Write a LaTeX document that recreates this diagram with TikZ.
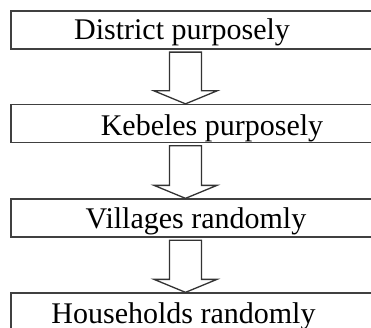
\documentclass[tikz,border=0pt]{standalone}
\usepackage{fontspec}
\setmainfont{Liberation Serif}
\usepackage{tikz}

\begin{document}
\begin{tikzpicture}[x=1pt,y=1pt,
        font=\fontsize{30}{36}\selectfont,
        stagebox/.style={draw=black!75,line width=1.3pt,minimum width=369pt,minimum height=38pt,inner sep=0pt},
        stagetext/.style={anchor=base,inner sep=0pt},
        downarr/.style={draw=black!80,line width=1.3pt,line join=miter,fill=white}]

    \useasboundingbox (0,0) rectangle (371,327);
    \clip (0,0) rectangle (371,327);

    % boxes
    \node[stagebox] (district) at (195.5,297) {};
    \node[stagebox] (kebele) at (195.5,203.5) {};
    \node[stagebox] (village) at (195.5,109) {};
    \node[stagebox] (household) at (195.5,15) {};

    % texts
    \node[stagetext] (districttxt) at (182,287.7) {District purposely};
    \node[stagetext] (kebeletxt) at (212,192) {Kebeles purposely};
    \node[stagetext] (villagetxt) at (196,99) {Villages randomly};
    \node[stagetext] (householdtxt) at (183.5,4) {Households randomly};

    % block arrows
    \foreach \from/\to in {district/kebele,kebele/village,village/household}{
        \coordinate (top) at ([yshift=-2.5pt]\from.south -| 185.5,0);
        \coordinate (tip) at (\to.north -| 185.5,0);
        \draw[downarr] ([xshift=-16pt]top) -- ([xshift=16pt]top)
            -- ([xshift=16pt,yshift=13pt]tip) -- ([xshift=31.5pt,yshift=13pt]tip)
            -- (tip) -- ([xshift=-31.5pt,yshift=13pt]tip)
            -- ([xshift=-16pt,yshift=13pt]tip) -- cycle;
    }
\end{tikzpicture}
\end{document}
